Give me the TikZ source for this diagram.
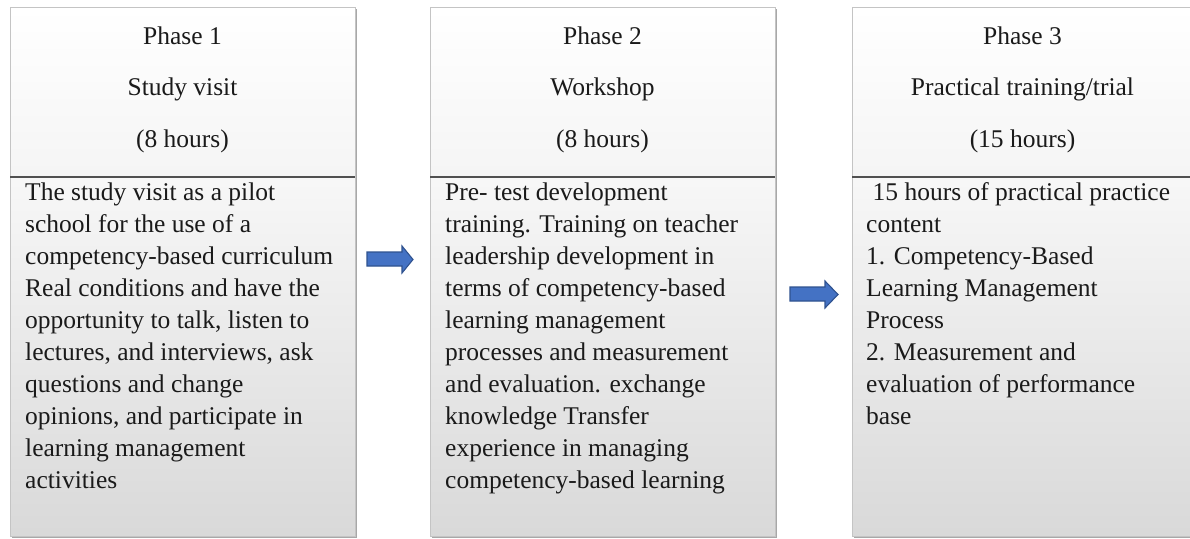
\documentclass[tikz,border=0pt]{standalone}
\usepackage{fontspec}
\setmainfont{Liberation Serif}
\definecolor{txt}{HTML}{1A1A1A}
\definecolor{bordergray}{HTML}{C4C4C4}
\definecolor{shadowgray}{HTML}{A8A8A8}
\definecolor{divgray}{HTML}{505050}
\definecolor{arrowfill}{HTML}{4472C4}
\definecolor{arrowline}{HTML}{2F528F}
\tikzset{
  headtxt/.style={anchor=base, inner sep=0pt, text=txt, font=\fontsize{25.5}{51.5}\selectfont},
  bodytxt/.style={anchor=base west, inner sep=0pt, text=txt, font=\fontsize{25.5}{32}\selectfont},
  blockarrow/.style={draw=arrowline, fill=arrowfill, line width=1.1pt, line join=miter},
}
\newcommand\phasepanel[2]{% left x, right x
  \fill[shadowgray] (#1+2,9) rectangle (#2+2,538);
  \shade[top color=white, bottom color=black!4] (#1,7) rectangle (#2,177);
  \shade[top color=black!3, bottom color=black!15] (#1,177) rectangle (#2,536);
  \draw[bordergray, line width=1pt] (#1,7) rectangle (#2,536);
  \draw[divgray, line width=1.6pt] (#1,177) -- (#2,177);
}
\begin{document}
\begin{tikzpicture}[x=1pt,y=-1pt]
\useasboundingbox (0,0) rectangle (1190,538);
\clip (0,0) rectangle (1190,538);
\fill[white] (0,0) rectangle (1190,538);

\phasepanel{10}{355}
\phasepanel{430}{775}
\phasepanel{852}{1197}

% headers
\node[headtxt] (h1) at (182.5,44) {\parbox[t]{340pt}{\centering Phase 1\\Study visit\\(8 hours)}};
\node[headtxt] (h2) at (602.5,44) {\parbox[t]{340pt}{\centering Phase 2\\Workshop\\(8 hours)}};
\node[headtxt] (h3) at (1022.5,44) {\parbox[t]{340pt}{\centering Phase 3\\Practical training/trial\\(15 hours)}};

% bodies
\node[bodytxt] (b1) at (25,200) {\parbox[t]{330pt}{\raggedright
The study visit as a pilot\\
school for the use of a\\
competency-based curriculum\\
Real conditions and have the\\
opportunity to talk, listen to\\
lectures, and interviews, ask\\
questions and change\\
opinions, and participate in\\
learning management\\
activities}};

\node[bodytxt] (b2) at (445,200) {\parbox[t]{330pt}{\raggedright
Pre- test development\\
training. Training on teacher\\
leadership development in\\
terms of competency-based\\
learning management\\
processes and measurement\\
and evaluation. exchange\\
knowledge Transfer\\
experience in managing\\
competency-based learning}};

\node[bodytxt] (b3) at (866,200) {\parbox[t]{330pt}{\raggedright
\hspace*{6.5pt}15 hours of practical practice\\
content\\
1. Competency-Based\\
Learning Management\\
Process\\
2. Measurement and\\
evaluation of performance\\
base}};

% block arrows
\draw[blockarrow] (367,252) -- (402,252) -- (402,246) -- (413,259.5) -- (402,273) -- (402,266) -- (367,266) -- cycle;
\draw[blockarrow] (790,287) -- (825,287) -- (825,281) -- (838,294.5) -- (825,308) -- (825,301) -- (790,301) -- cycle;
\end{tikzpicture}
\end{document}
